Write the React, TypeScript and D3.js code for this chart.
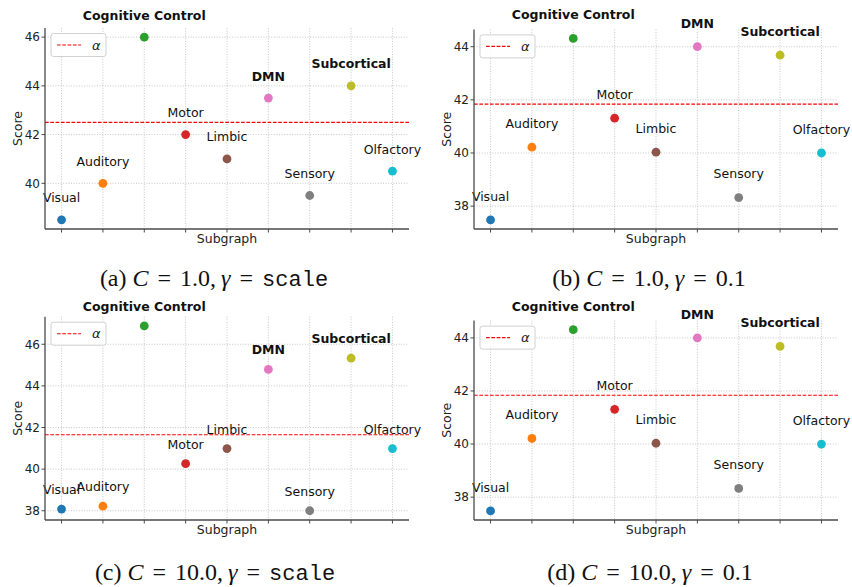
import React from "react";
import * as d3 from "d3";

const categories = ["Visual", "Auditory", "Cognitive Control", "Motor", "Limbic", "DMN", "Sensory", "Subcortical", "Olfactory"];
const colors = ["#1f77b4", "#ff7f0e", "#2ca02c", "#d62728", "#8c564b", "#e377c2", "#7f7f7f", "#bcbd22", "#17becf"];

const scoresA = [38.5, 40.0, 46.0, 42.0, 41.0, 43.5, 39.5, 44.0, 40.5];
const scoresB = [37.48, 40.22, 44.31, 41.31, 40.03, 44.0, 38.32, 43.68, 40.0];
const scoresC = [38.08, 38.22, 46.88, 40.26, 40.99, 44.79, 38.0, 45.33, 40.99];
const scoresD = [37.48, 40.21, 44.31, 41.31, 40.03, 44.0, 38.33, 43.68, 40.0];

const alphaA = 42.5;
const alphaB = 41.84;
const alphaC = 41.65;
const alphaD = 41.84;

const ticksA = [40, 42, 44, 46];
const ticksB = [38, 40, 42, 44];
const ticksC = [38, 40, 42, 44, 46];
const ticksD = [38, 40, 42, 44];

const captionLetters = ["(a)", "(b)", "(c)", "(d)"];
const captionC = ["1.0", "1.0", "10.0", "10.0"];
const captionGamma = ["scale", "0.1", "scale", "0.1"];

const xLabel = "Subgraph";
const yLabel = "Score";
const legendLabel = "α";

const W = 852;
const H = 587;
const FONT = "'DejaVu Sans', sans-serif";

type Box = { left: number; right: number; top: number; bottom: number; capX: number; capY: number };

const boxes: Box[] = [
  { left: 45, right: 409, top: 28, bottom: 229, capX: 214, capY: 286 },
  { left: 474, right: 838, top: 29.4, bottom: 229, capX: 649, capY: 286 },
  { left: 45, right: 409, top: 316.7, bottom: 520, capX: 215, capY: 580 },
  { left: 474, right: 838, top: 320.6, bottom: 520, capX: 650, capY: 580 },
];

const panelData = [
  { scores: scoresA, alpha: alphaA, ticks: ticksA },
  { scores: scoresB, alpha: alphaB, ticks: ticksB },
  { scores: scoresC, alpha: alphaC, ticks: ticksC },
  { scores: scoresD, alpha: alphaD, ticks: ticksD },
];

function Panel({ idx }: { idx: number }) {
  const b = boxes[idx];
  const { scores, alpha, ticks } = panelData[idx];
  const n = categories.length;
  const x = d3.scaleLinear().domain([-0.4, n - 1 + 0.4]).range([b.left, b.right]);
  const [mn, mx] = d3.extent(scores) as [number, number];
  const pad = (mx - mn) * 0.05;
  const y = d3.scaleLinear().domain([mn - pad, mx + pad]).range([b.bottom, b.top]);
  const gridStyle = { stroke: "#b8b8b8", strokeWidth: 0.8, strokeDasharray: "1,1.6" };
  const spine = "#4a4a4a";
  const cx = (b.left + b.right) / 2;
  const cy = (b.top + b.bottom) / 2;
  return (
    <g>
      {categories.map((c, i) => (
        <line key={"gx" + c} x1={x(i)} x2={x(i)} y1={b.top} y2={b.bottom} {...gridStyle} />
      ))}
      {ticks.map((t) => (
        <line key={"gy" + t} x1={b.left} x2={b.right} y1={y(t)} y2={y(t)} {...gridStyle} />
      ))}
      <line x1={b.left} x2={b.right} y1={y(alpha)} y2={y(alpha)} stroke="#ff0000" strokeWidth={1.1} strokeDasharray="3.7,1.6" />
      {scores.map((v, i) => (
        <circle key={"p" + i} cx={x(i)} cy={y(v)} r={4.4} fill={colors[i]} />
      ))}
      {scores.map((v, i) => (
        <text
          key={"l" + i}
          x={x(i)}
          y={y(v + 0.72)}
          textAnchor="middle"
          fontFamily={FONT}
          fontSize={12.5}
          fontWeight={v > alpha ? "bold" : "normal"}
          fill="#111"
        >
          {categories[i]}
        </text>
      ))}
      <line x1={b.left} x2={b.left} y1={b.top} y2={b.bottom} stroke={spine} strokeWidth={1.3} />
      <line x1={b.left} x2={b.right} y1={b.bottom} y2={b.bottom} stroke={spine} strokeWidth={1.3} />
      {categories.map((c, i) => (
        <line key={"tx" + c} x1={x(i)} x2={x(i)} y1={b.bottom} y2={b.bottom + 3.5} stroke={spine} strokeWidth={1} />
      ))}
      {ticks.map((t) => (
        <g key={"ty" + t}>
          <line x1={b.left - 3.5} x2={b.left} y1={y(t)} y2={y(t)} stroke={spine} strokeWidth={1} />
          <text x={b.left - 5} y={y(t)} dy="0.36em" textAnchor="end" fontFamily={FONT} fontSize={12} fill="#222">
            {t}
          </text>
        </g>
      ))}
      <text x={cx} y={b.bottom + 14.3} textAnchor="middle" fontFamily={FONT} fontSize={12.5} fill="#222">
        {xLabel}
      </text>
      <text
        transform={`translate(${b.left - 23},${cy}) rotate(-90)`}
        textAnchor="middle"
        fontFamily={FONT}
        fontSize={12.5}
        fill="#222"
      >
        {yLabel}
      </text>
      <rect x={b.left + 6} y={b.top + 5.5} width={55} height={23} rx={2.5} fill="#fff" fillOpacity={0.85} stroke="#d0d0d0" strokeWidth={1} />
      <line x1={b.left + 12} x2={b.left + 36} y1={b.top + 17} y2={b.top + 17} stroke="#ff0000" strokeWidth={1.1} strokeDasharray="3.7,1.6" />
      <text x={b.left + 47} y={b.top + 21.5} fontFamily={FONT} fontStyle="italic" fontSize={13} fill="#222">
        {legendLabel}
      </text>
      <text x={b.capX} y={b.capY} textAnchor="middle" fontFamily="'Liberation Serif', 'Times New Roman', serif" fontSize={24} fill="#111">
        <tspan>{captionLetters[idx] + " "}</tspan>
        <tspan fontStyle="italic">C</tspan>
        <tspan dx={9}>=</tspan>
        <tspan dx={9}>{captionC[idx] + ","}</tspan>
        <tspan dx={5} fontStyle="italic">γ</tspan>
        <tspan dx={9}>=</tspan>
        {captionGamma[idx] === "scale" ? (
          <tspan dx={9} fontFamily="'Liberation Mono', 'DejaVu Sans Mono', monospace" fontSize={22}>
            {captionGamma[idx]}
          </tspan>
        ) : (
          <tspan dx={9}>{captionGamma[idx]}</tspan>
        )}
      </text>
    </g>
  );
}

export default function App() {
  return (
    <svg width={W} height={H} viewBox={`0 0 ${W} ${H}`} style={{ position: "absolute", left: 0, top: 0, background: "#fff" }}>
      <rect width={W} height={H} fill="#fff" />
      {[0, 1, 2, 3].map((i) => (
        <Panel key={i} idx={i} />
      ))}
    </svg>
  );
}
